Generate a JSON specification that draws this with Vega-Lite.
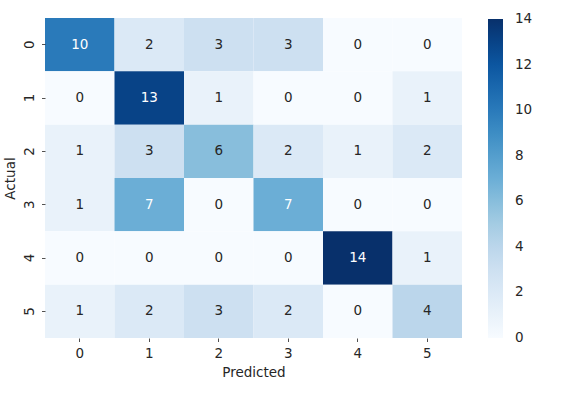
{
  "$schema": "https://vega.github.io/schema/vega-lite/v6.json",
  "width": 417,
  "height": 320,
  "autosize": {"type": "none"},
  "padding": {"left": 45, "top": 18, "right": 108, "bottom": 60},
  "background": "white",
  "data": {
    "values": [
      {"a": "0", "p": "0", "v": 10}, {"a": "0", "p": "1", "v": 2}, {"a": "0", "p": "2", "v": 3}, {"a": "0", "p": "3", "v": 3}, {"a": "0", "p": "4", "v": 0}, {"a": "0", "p": "5", "v": 0},
      {"a": "1", "p": "0", "v": 0}, {"a": "1", "p": "1", "v": 13}, {"a": "1", "p": "2", "v": 1}, {"a": "1", "p": "3", "v": 0}, {"a": "1", "p": "4", "v": 0}, {"a": "1", "p": "5", "v": 1},
      {"a": "2", "p": "0", "v": 1}, {"a": "2", "p": "1", "v": 3}, {"a": "2", "p": "2", "v": 6}, {"a": "2", "p": "3", "v": 2}, {"a": "2", "p": "4", "v": 1}, {"a": "2", "p": "5", "v": 2},
      {"a": "3", "p": "0", "v": 1}, {"a": "3", "p": "1", "v": 7}, {"a": "3", "p": "2", "v": 0}, {"a": "3", "p": "3", "v": 7}, {"a": "3", "p": "4", "v": 0}, {"a": "3", "p": "5", "v": 0},
      {"a": "4", "p": "0", "v": 0}, {"a": "4", "p": "1", "v": 0}, {"a": "4", "p": "2", "v": 0}, {"a": "4", "p": "3", "v": 0}, {"a": "4", "p": "4", "v": 14}, {"a": "4", "p": "5", "v": 1},
      {"a": "5", "p": "0", "v": 1}, {"a": "5", "p": "1", "v": 2}, {"a": "5", "p": "2", "v": 3}, {"a": "5", "p": "3", "v": 2}, {"a": "5", "p": "4", "v": 0}, {"a": "5", "p": "5", "v": 4}
    ]
  },
  "encoding": {
    "x": {
      "field": "p", "type": "ordinal", "title": "Predicted",
      "scale": {"paddingInner": 0, "paddingOuter": 0},
      "axis": {"labelAngle": 0, "labelPadding": 5, "titlePadding": 5}
    },
    "y": {
      "field": "a", "type": "ordinal", "title": "Actual",
      "scale": {"paddingInner": 0, "paddingOuter": 0},
      "axis": {"labelAngle": -90, "labelAlign": "center", "labelBaseline": "bottom", "labelPadding": 5, "titlePadding": 5}
    }
  },
  "layer": [
    {
      "mark": {"type": "rect", "strokeWidth": 0},
      "encoding": {
        "color": {
          "field": "v", "type": "quantitative",
          "scale": {
            "domain": [0, 1.75, 3.5, 5.25, 7, 8.75, 10.5, 12.25, 14],
            "range": ["#f7fbff", "#deebf7", "#c6dbef", "#9ecae1", "#6baed6", "#4292c6", "#2171b5", "#08519c", "#08306b"],
            "interpolate": "rgb"
          },
          "legend": {
            "orient": "none", "legendX": 443, "legendY": 1,
            "title": null, "direction": "vertical",
            "gradientLength": 319, "gradientThickness": 15,
            "gradientStrokeWidth": 0,
            "values": [0, 2, 4, 6, 8, 10, 12, 14],
            "labelOverlap": false, "labelBaseline": "middle", "labelAlign": "left",
            "labelOffset": 12, "labelFontSize": 13.5, "labelColor": "#262626",
            "labelFont": "DejaVu Sans", "padding": 0,
            "encode": {"labels": {"update": {"baseline": {"value": "middle"}}}}
          }
        }
      }
    },
    {
      "mark": {"type": "text", "fontSize": 13.5, "font": "DejaVu Sans"},
      "encoding": {
        "text": {"field": "v", "type": "quantitative"},
        "color": {
          "condition": {"test": "datum.v >= 7", "value": "#ffffff"},
          "value": "#262626"
        }
      }
    }
  ],
  "config": {
    "view": {"stroke": null},
    "font": "DejaVu Sans",
    "axis": {
      "domain": false, "grid": false,
      "tickColor": "#262626", "tickSize": 3.5, "tickWidth": 0.8,
      "labelFont": "DejaVu Sans", "labelFontSize": 13.5, "labelColor": "#262626",
      "titleFont": "DejaVu Sans", "titleFontSize": 13.5, "titleFontWeight": "normal", "titleColor": "#262626"
    }
  }
}
